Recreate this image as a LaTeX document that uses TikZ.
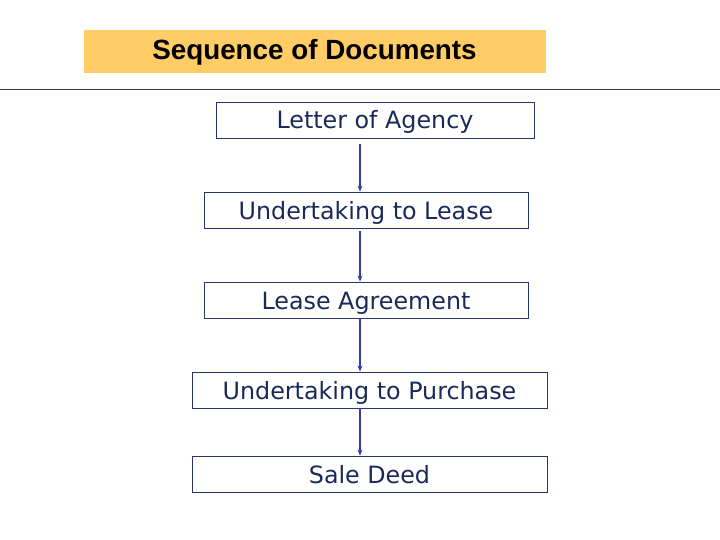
\documentclass[tikz,border=0pt]{standalone}
\usepackage{fontspec}
\setmainfont{DejaVu Sans}
\newfontfamily\titlefont{Liberation Sans}
\usepackage{xcolor}
\usetikzlibrary{arrows.meta,positioning,calc}
\definecolor{titlefill}{HTML}{FFCC66}
\definecolor{rulecol}{HTML}{1F4050}
\definecolor{boxtext}{HTML}{1A2A58}
\definecolor{boxline}{HTML}{2A3570}
\definecolor{arrcol}{HTML}{3A3AA0}

\begin{document}
\begin{tikzpicture}[
    x=1pt, y=-1pt,
    docbox/.style={draw=boxline, line width=0.9pt, inner sep=0pt, minimum height=36pt, text height=21pt, text depth=3pt, align=center, text=boxtext, font=\fontsize{23.8}{26}\selectfont},
    arr/.style={-{Stealth[length=6pt, width=5pt]}, line width=1.5pt, draw=arrcol},
]
    \useasboundingbox (0,0) rectangle (720,540);

    % Title
    \node[fill=titlefill, minimum width=462pt, minimum height=43pt, inner sep=0pt] (title) at (315, 51.5) {};
    \node[font=\titlefont\bfseries\fontsize{27.8}{30}\selectfont] (titletext) at (314.5, 52) {Sequence of Documents};
    \coordinate (rulel) at (0, 90);
    \coordinate (ruler) at (720, 90);
    \draw[rulecol, line width=1pt] (rulel) -- (ruler);

    % Documents
    \node[docbox, minimum width=318pt] (agency) at (375, 120) {Letter of Agency};
    \node[docbox, minimum width=324pt] (ulease) at (366, 210) {Undertaking to Lease};
    \node[docbox, minimum width=324pt] (lease) at (366, 300) {Lease Agreement};
    \node[docbox, minimum width=355pt] (upurchase) at (369.5, 390) {Undertaking to Purchase};
    \node[docbox, minimum width=355pt] (deed) at (369.5, 474) {Sale Deed};

    % Arrows
    \coordinate (arrx) at (360, 0);
    \draw[arr, shorten <=6pt] (agency.south -| arrx) -- (ulease.north -| arrx);
    \draw[arr, shorten <=3pt] (ulease.south -| arrx) -- (lease.north -| arrx);
    \draw[arr] (lease.south -| arrx) -- (upurchase.north -| arrx);
    \draw[arr] (upurchase.south -| arrx) -- (deed.north -| arrx);
\end{tikzpicture}
\end{document}
